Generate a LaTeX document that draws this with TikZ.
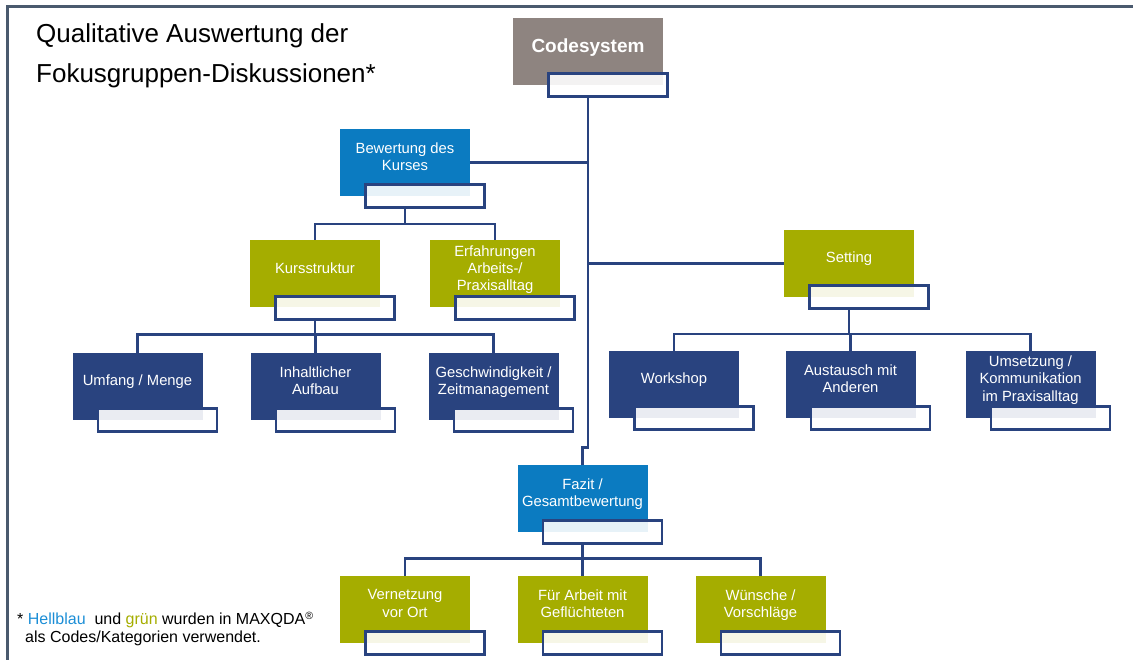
\documentclass[tikz,border=0pt]{standalone}
\usepackage{fontspec}
\setmainfont{Liberation Sans}
\definecolor{codegray}{HTML}{8E8480}
\definecolor{codeblue}{HTML}{0B7BC1}
\definecolor{codegreen}{HTML}{A5AD00}
\definecolor{codenavy}{HTML}{29437F}
\definecolor{framegray}{HTML}{4A5A6E}
\definecolor{noteblue}{HTML}{1C8ED6}
\tikzstyle{codebox}=[rectangle, minimum width=130pt, minimum height=67pt, inner sep=1pt, text=white, align=center, font=\fontsize{14.8}{17.2}\selectfont, execute at end node={\rule[-12pt]{0pt}{0pt}}]
\tikzstyle{subbox}=[rectangle, draw=codenavy, line width=2.8pt, fill=white, fill opacity=0.9, minimum width=119pt, minimum height=23pt, inner sep=0pt, xshift=20pt]
\tikzstyle{link}=[codenavy, line width=2.8pt]

\begin{document}
\begin{tikzpicture}[x=1pt, y=-1pt]
\useasboundingbox (0,0) rectangle (1133,660);
% Frame
    \draw[framegray, line width=3pt] (7,660) -- (7,7) -- (1133,7);
% Title and note
    \node[anchor=north west, inner sep=0pt, align=left, font=\fontsize{26}{40}\selectfont] (title) at (36,23) {Qualitative Auswertung der\\Fokusgruppen-Diskussionen*};
    \node[anchor=north west, inner sep=0pt, align=left, font=\fontsize{16}{18}\selectfont] (note) at (17,612) {* \textcolor{noteblue}{Hellblau}~ und \textcolor{codegreen}{grün} wurden in MAXQDA{\fontsize{10.5}{10.5}\selectfont\raisebox{5pt}{®}}\\\hspace*{8pt}als Codes/Kategorien verwendet.};
% Boxes
    \node[codebox, fill=codegray, minimum width=150pt, font=\fontsize{19}{22}\bfseries] (code) at (588,51.5) {Codesystem};
    \node[codebox, fill=codeblue] (bew) at (405,162.5) {Bewertung des\\Kurses};
    \node[codebox, fill=codegreen] (kurs) at (315,274) {Kursstruktur};
    \node[codebox, fill=codegreen] (erf) at (495,274) {Erfahrungen\\Arbeits-/\\Praxisalltag};
    \node[codebox, fill=codenavy] (umf) at (137.5,386.5) {Umfang / Menge};
    \node[codebox, fill=codenavy] (inh) at (315.5,386.5) {Inhaltlicher\\Aufbau};
    \node[codebox, fill=codenavy] (ges) at (493.5,386.5) {Geschwindigkeit /\\Zeitmanagement};
    \node[codebox, fill=codegreen] (set) at (849,263.5) {Setting};
    \node[codebox, fill=codenavy] (work) at (674,384.5) {Workshop};
    \node[codebox, fill=codenavy] (aus) at (850.5,384.5) {Austausch mit\\Anderen};
    \node[codebox, fill=codenavy] (ums) at (1030.5,384.5) {Umsetzung /\\Kommunikation\\im Praxisalltag};
    \node[codebox, fill=codeblue] (faz) at (582.5,498.5) {Fazit /\\Gesamtbewertung};
    \node[codebox, fill=codegreen] (ver) at (405,609.5) {Vernetzung\\vor Ort};
    \node[codebox, fill=codegreen] (fuer) at (582.5,609.5) {Für Arbeit mit\\Geflüchteten};
    \node[codebox, fill=codegreen] (wue) at (760.5,609.5) {Wünsche /\\Vorschläge};
% Sub-boxes
    \node[subbox] (code-s) at (code.south) {};
    \node[subbox] (bew-s) at (bew.south) {};
    \node[subbox] (kurs-s) at (kurs.south) {};
    \node[subbox] (erf-s) at (erf.south) {};
    \node[subbox] (umf-s) at (umf.south) {};
    \node[subbox] (inh-s) at (inh.south) {};
    \node[subbox] (ges-s) at (ges.south) {};
    \node[subbox] (set-s) at (set.south) {};
    \node[subbox] (work-s) at (work.south) {};
    \node[subbox] (aus-s) at (aus.south) {};
    \node[subbox] (ums-s) at (ums.south) {};
    \node[subbox] (faz-s) at (faz.south) {};
    \node[subbox] (ver-s) at (ver.south) {};
    \node[subbox] (fuer-s) at (fuer.south) {};
    \node[subbox] (wue-s) at (wue.south) {};
% Links
    \draw[link] (code-s.south -| code) |- (bew.east);
    \draw[link] (code-s.south -| code) |- (set.west);
    \draw[link] (code-s.south -| code) -- ++(0,349) -| (faz.north);
    \draw[link] (bew-s.south -| bew) -- ++(0,15) -| (kurs.north);
    \draw[link] (bew-s.south -| bew) -- ++(0,15) -| (erf.north);
    \draw[link] (kurs-s.south -| kurs) -- ++(0,14) -| (umf.north);
    \draw[link] (kurs-s.south -| kurs) -- ++(0,14) -| (inh.north);
    \draw[link] (kurs-s.south -| kurs) -- ++(0,14) -| (ges.north);
    \draw[link] (set-s.south -| set) -- ++(0,24) -| (work.north);
    \draw[link] (set-s.south -| set) -- ++(0,24) -| (aus.north);
    \draw[link] (set-s.south -| set) -- ++(0,24) -| (ums.north);
    \draw[link] (faz-s.south -| faz) -- ++(0,13) -| (ver.north);
    \draw[link] (faz-s.south -| faz) -- ++(0,13) -| (fuer.north);
    \draw[link] (faz-s.south -| faz) -- ++(0,13) -| (wue.north);
\end{tikzpicture}
\end{document}
